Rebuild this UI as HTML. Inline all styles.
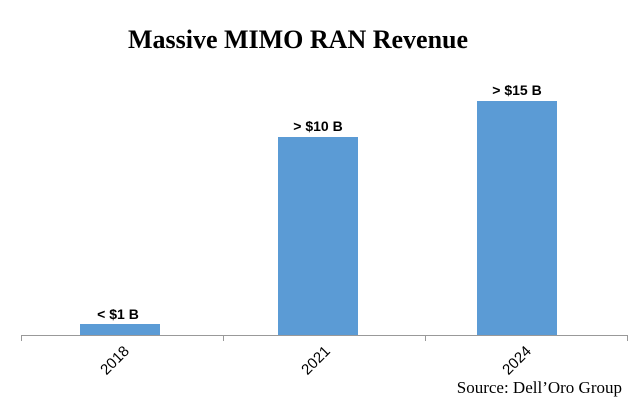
<!DOCTYPE html>
<html><head><style>
body{margin:0;background:#fff;}
svg{display:block;}
</style></head><body>
<svg width="640" height="401" xmlns="http://www.w3.org/2000/svg">
<rect width="640" height="401" fill="#fff"/>
<text x="298" y="48" text-anchor="middle" font-family="Liberation Serif, serif" font-weight="bold" font-size="26">Massive MIMO RAN Revenue</text>
<rect x="80" y="324" width="80" height="11" fill="#5b9bd5"/>
<rect x="278" y="137" width="80" height="198" fill="#5b9bd5"/>
<rect x="477" y="101" width="80" height="234" fill="#5b9bd5"/>
<line x1="21" y1="335.5" x2="628" y2="335.5" stroke="#999" stroke-width="1"/>
<g stroke="#999" stroke-width="1">
<line x1="21.5" y1="335" x2="21.5" y2="341"/>
<line x1="223.5" y1="335" x2="223.5" y2="341"/>
<line x1="425.5" y1="335" x2="425.5" y2="341"/>
<line x1="627.5" y1="335" x2="627.5" y2="341"/>
</g>
<g font-family="Liberation Sans, sans-serif" font-weight="bold" font-size="14" text-anchor="middle" fill="#000">
<text x="118" y="319">&lt; $1 B</text>
<text x="318" y="131">&gt; $10 B</text>
<text x="517" y="95">&gt; $15 B</text>
</g>
<g font-family="Liberation Sans, sans-serif" font-size="15" text-anchor="end" fill="#000">
<text transform="translate(130,352) rotate(-45)">2018</text>
<text transform="translate(331,352) rotate(-45)">2021</text>
<text transform="translate(532,352) rotate(-45)">2024</text>
</g>
<text x="622" y="393" text-anchor="end" font-family="Liberation Serif, serif" font-size="17">Source: Dell’Oro Group</text>
</svg>
</body></html>
